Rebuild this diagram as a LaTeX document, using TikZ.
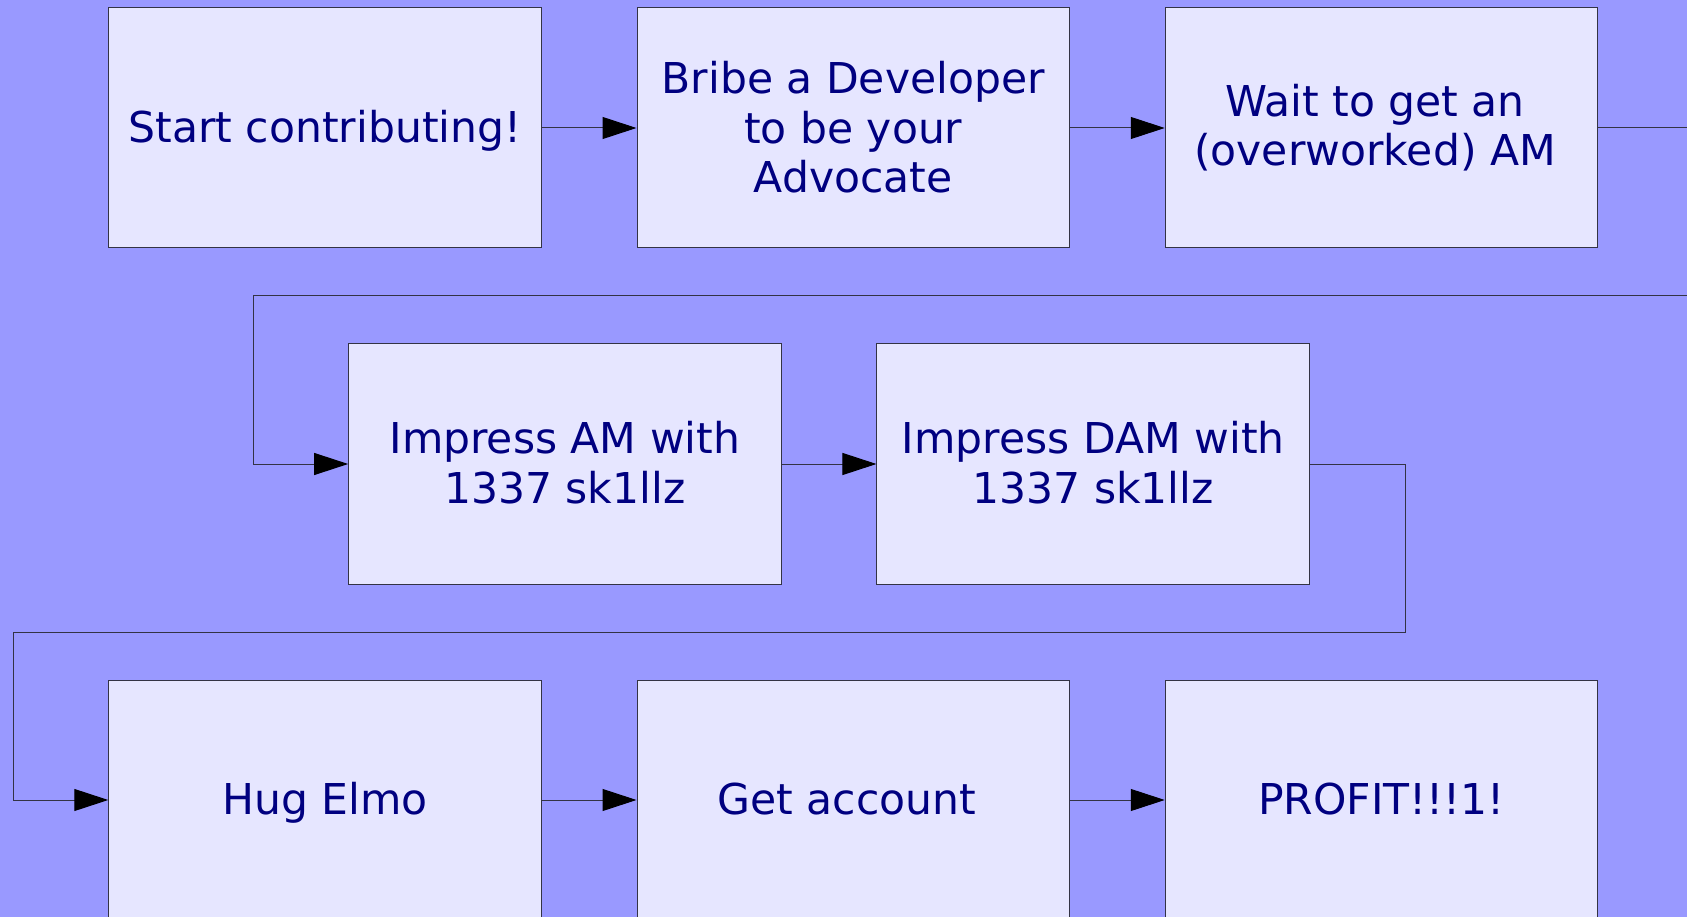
\documentclass[tikz,border=0pt]{standalone}
\usepackage{fontspec}
\setmainfont{DejaVu Sans}
\usetikzlibrary{arrows.meta}
\definecolor{bgc}{HTML}{9999FF}
\definecolor{boxc}{HTML}{E6E6FF}
\definecolor{txtc}{HTML}{000080}
\definecolor{linec}{HTML}{333344}
\begin{document}
\begin{tikzpicture}[x=1pt,y=-1pt,
  stepbox/.style={draw=linec, line width=1pt, fill=boxc,
    minimum width=432.5pt, minimum height=240pt, inner sep=0pt},
  steptext/.style={text=txtc, inner sep=0pt, align=center, anchor=base,
    font=\fontsize{42.5}{49.3}\selectfont},
  flow/.style={draw=linec, line width=1pt, -{Triangle[length=34pt,width=22pt,color=black]}},
  plain/.style={draw=linec, line width=1pt}]
\useasboundingbox (0,0) rectangle (1687,917);
\clip (0,0) rectangle (1687,917);
\fill[bgc] (0,0) rectangle (1687,917);
\node[stepbox] (b1) at (325,128) {};
\node[stepbox] (b2) at (853.25,128) {};
\node[stepbox] (b3) at (1381.5,128) {};
\node[stepbox] (b4) at (564.9,464) {};
\node[stepbox] (b5) at (1093.2,464) {};
\node[stepbox] (b6) at (325,800) {};
\node[stepbox] (b7) at (853.25,800) {};
\node[stepbox] (b8) at (1381.5,800) {};
\node[steptext] (t1) at (325,142.3) {Start contributing!};
\node[steptext] (t2) at (853.25,192.6) {Bribe a Developer\\to be your\\Advocate};
\node[steptext] (t3) at (1375,165.5) {Wait to get an\\(overworked) AM};
\node[steptext] (t4) at (564.9,503) {Impress AM with\\1337 sk1llz};
\node[steptext] (t5) at (1093.2,503) {Impress DAM with\\1337 sk1llz};
\node[steptext] (t6) at (325,814.5) {Hug Elmo};
\node[steptext] (t7) at (846.7,814.8) {Get account};
\node[steptext] (t8) at (1381.5,814.5) {PROFIT!!!1!};
\coordinate (e1) at (1690,128);
\coordinate (e2) at (1690,296);
\coordinate (k1) at (253,296);
\coordinate (k2) at (1405,464);
\coordinate (k3) at (1405,632);
\coordinate (k4) at (13,632);
\draw[flow] (b1) -- (b2);
\draw[flow] (b2) -- (b3);
\draw[plain] (b3.east) -- (e1);
\draw[flow] (e2) -- (k1) |- (b4.west);
\draw[flow] (b4) -- (b5);
\draw[plain] (b5.east) -- (k2) -- (k3) -- (k4);
\draw[flow] (k4) |- (b6.west);
\draw[flow] (b6) -- (b7);
\draw[flow] (b7) -- (b8);
\end{tikzpicture}
\end{document}
